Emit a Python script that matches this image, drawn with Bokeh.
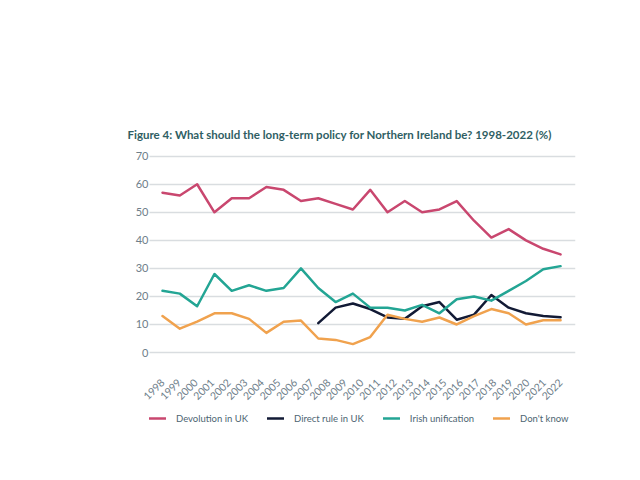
import numpy as np
from bokeh.plotting import figure
from bokeh.models import Legend, LegendItem, FixedTicker, Range1d
from bokeh.embed import file_html
from bokeh.resources import INLINE

years = list(range(1998, 2023))

devolution = [57, 56, 60, 50, 55, 55, 59, 58, 54, 55, 53, 51, 58, 50, 54, 50, 51, 54, 47, 41, 44, 40, 37, 35]
direct_rule = [None, None, None, None, None, None, None, None, None, 10.5, 16, 17.5, 15.5, 12.5, 12, 16.5,
               18, 11.7, 13.5, 20.5, 16, 14, 13, 12.6]
irish_unification = [22, 21, 16.5, 28, 22, 24, 22, 23, 30, 23, 18, 21, 16, 16, 15, 17, 14, 19, 20, 18.5,
                     22, 25.5, 29.7, 30.8]
dont_know = [13, 8.5, 11, 14, 14, 12, 7, 11, 11.4, 5, 4.5, 3, 5.5, 13.5, 12, 11, 12.5, 10, 13, 15.5,
             14, 10, 11.5, 11.5]

series = [("Devolution in UK", devolution, "#c9476f"),
          ("Direct rule in UK", direct_rule, "#121a35"),
          ("Irish unification", irish_unification, "#23a594"),
          ("Don't know", dont_know, "#f0a24e")]

# the points are spread evenly over the labelled years
n = len(devolution)
xs = [years[0] + i * (years[-1] - years[0]) / (n - 1) for i in range(n)]

x_lo, x_hi = 1997.22, 2022.9

# frame is larger than the grid so the x labels and legend sit inside it
p = figure(width=620, height=470, output_backend="svg", toolbar_location=None,
           x_range=Range1d(1995.467, x_hi), y_range=Range1d(-27.8, 72.03),
           min_border_left=120, min_border_right=45, min_border_top=150, min_border_bottom=40)
p.outline_line_color = None
p.background_fill_color = "white"
p.border_fill_color = "white"

p.title.text = "Figure 4: What should the long-term policy for Northern Ireland be? 1998-2022 (%)"
p.title.text_font = "Lato"
p.title.text_font_style = "bold"
p.title.text_font_size = "11.5px"
p.title.text_color = "#2f5e63"
p.title.offset = 7
p.title.standoff = 19

p.xgrid.grid_line_color = None
p.ygrid.grid_line_color = "#d9dde0"
p.ygrid.grid_line_width = 1.5
p.ygrid.cross_bounds = (x_lo, x_hi)
p.yaxis.ticker = FixedTicker(ticks=[0, 10, 20, 30, 40, 50, 60, 70])
p.xaxis.ticker = FixedTicker(ticks=years)
for ax in (p.xaxis, p.yaxis):
    ax.axis_line_color = None
    ax.major_tick_line_color = None
    ax.minor_tick_line_color = None
    ax.major_label_text_font = "Lato"
    ax.major_label_text_font_size = "11px"
    ax.major_label_text_color = "#6e7e8a"
p.yaxis.major_tick_in = 0
p.yaxis.major_tick_out = 0
p.yaxis.major_label_standoff = -28
p.xaxis.fixed_location = 0
p.xaxis.major_label_orientation = np.pi / 4
p.xaxis.major_label_standoff = 22
p.xaxis.major_label_text_font_size = "10.5px"

items = []
for name, vals, col in series:
    ys = [np.nan if v is None else v for v in vals]
    r = p.line(xs, ys, line_color=col, line_width=2.5, line_join="round", line_cap="round")
    items.append(LegendItem(label=name, renderers=[r]))

legend = Legend(items=items, orientation="horizontal", location=(29, 2))
legend.border_line_color = None
legend.background_fill_alpha = 0
legend.padding = 0
legend.margin = 0
legend.spacing = 19
legend.glyph_width = 17
legend.label_standoff = 10
legend.label_text_font = "Lato"
legend.label_text_font_size = "9.5px"
legend.label_text_color = "#4d6572"
p.add_layout(legend, "center")

open("out.html", "w").write(file_html(p, INLINE))
